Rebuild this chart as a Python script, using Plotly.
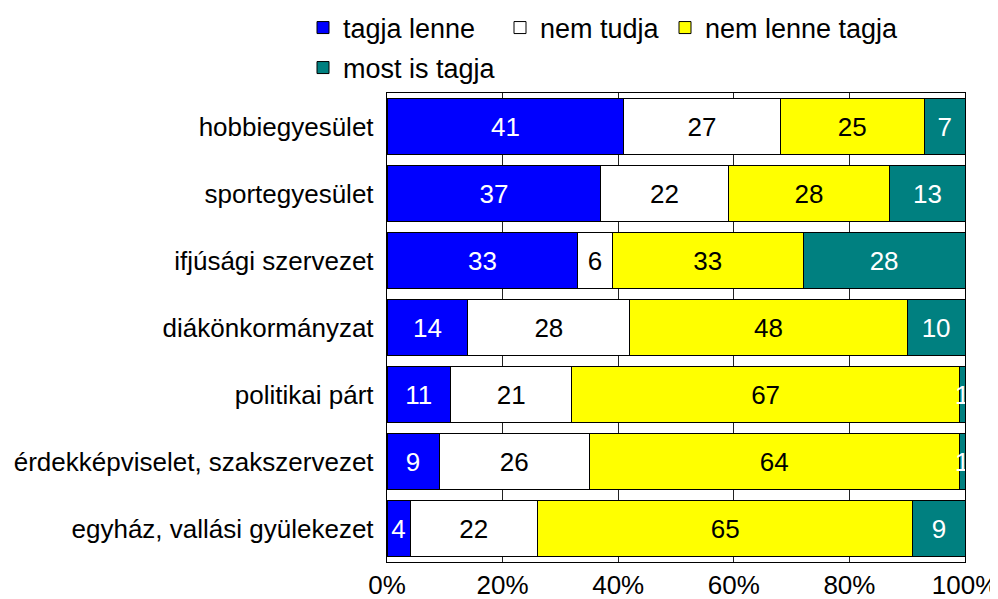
import plotly.graph_objects as go

# categories, top to bottom as in the picture
categories = ["hobbiegyesület", "sportegyesület", "ifjúsági szervezet",
              "diákönkormányzat", "politikai párt",
              "érdekképviselet, szakszervezet", "egyház, vallási gyülekezet"]

tagja_lenne = [41, 37, 33, 14, 11, 9, 4]
nem_tudja = [27, 22, 6, 28, 21, 26, 22]
nem_lenne_tagja = [25, 28, 33, 48, 67, 64, 65]
most_is_tagja = [7, 13, 28, 10, 1, 1, 9]

tick_vals = [0, 20, 40, 60, 80, 100]
tick_text = ["0%", "20%", "40%", "60%", "80%", "100%"]

series = [
    ("tagja lenne", tagja_lenne, "#0000FF", "white"),
    ("nem tudja", nem_tudja, "#FFFFFF", "black"),
    ("nem lenne tagja", nem_lenne_tagja, "#FFFF00", "black"),
    ("most is tagja", most_is_tagja, "#008080", "white"),
]

# the page body has an 8px margin, so the figure is a little smaller
# and everything is placed 8px up/left of where it shows in the picture
W, H = 990, 591

# each legend entry gets its own box so it can sit where the original puts it
# (x of the box's left edge, y of the row's middle, in figure pixels)
legend_pos = [(295, 20), (492, 20), (657, 20), (295, 60)]

FONT = "Liberation Sans, Arial, sans-serif"

fig = go.Figure()
for i, (name, vals, color, tcolor) in enumerate(series):
    fig.add_trace(go.Bar(
        y=categories, x=vals, name=name, orientation="h",
        marker=dict(color=color, line=dict(color="black", width=1)),
        text=vals, textposition="inside", insidetextanchor="middle",
        textfont=dict(color=tcolor, size=26, family=FONT),
        constraintext="none", cliponaxis=False,
        legend="legend" if i == 0 else "legend%d" % (i + 1),
    ))

layout_legends = {}
for i, (lx, ly) in enumerate(legend_pos):
    key = "legend" if i == 0 else "legend%d" % (i + 1)
    layout_legends[key] = dict(
        x=lx / W, y=1 - ly / H, xref="container", yref="container",
        xanchor="left", yanchor="middle", orientation="h",
        font=dict(size=27, family=FONT, color="black"),
        itemwidth=30, bgcolor="rgba(0,0,0,0)",
    )

fig.update_layout(
    barmode="stack",
    bargap=0.15,
    width=W, height=H,
    margin=dict(l=379, r=33, t=85, b=37, autoexpand=False),
    plot_bgcolor="white", paper_bgcolor="white",
    font=dict(family=FONT, size=26, color="black"),
    showlegend=True,
    uniformtext=dict(minsize=8, mode=False),
    **layout_legends,
)

fig.update_xaxes(
    range=[0, 100], tickvals=tick_vals, ticktext=tick_text,
    showgrid=True, gridcolor="#222222", gridwidth=1,
    showline=True, linecolor="black", linewidth=1, mirror=True,
    zeroline=False, ticks="", tickfont=dict(size=26),
    ticklabeloverflow="allow",
)
fig.update_yaxes(
    categoryorder="array", categoryarray=categories[::-1],
    showline=True, linecolor="black", linewidth=1, mirror=True,
    ticks="", ticksuffix=" ", tickfont=dict(size=26),
)

fig.write_html("out.html")
